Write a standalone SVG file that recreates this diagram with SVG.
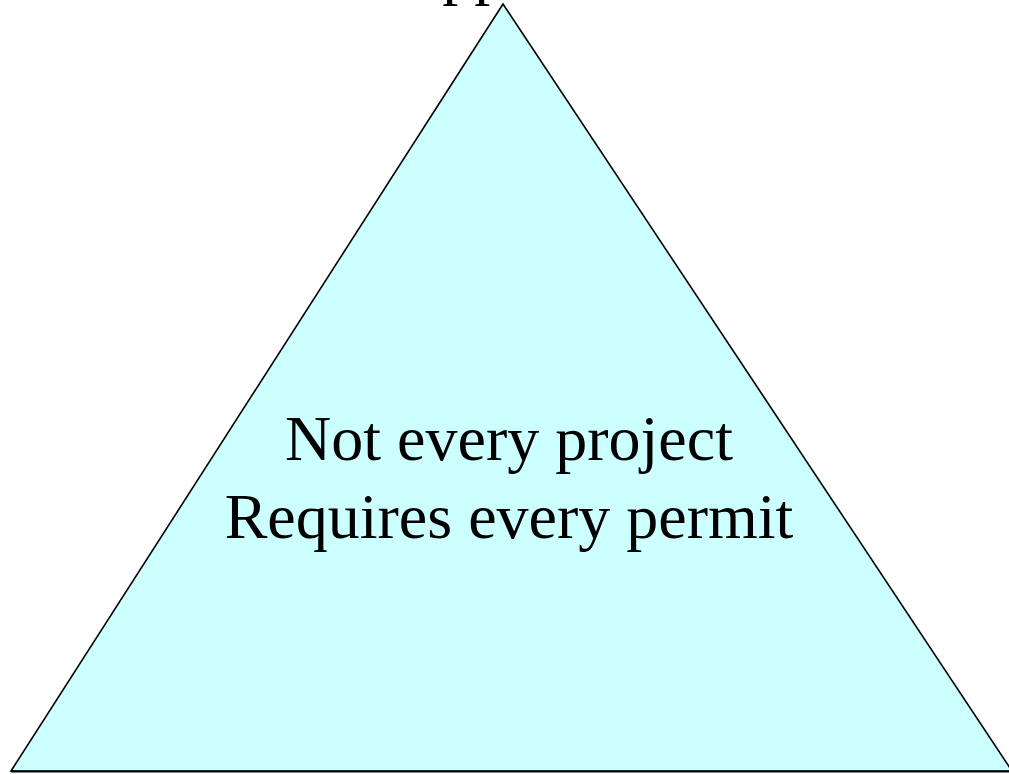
<svg xmlns="http://www.w3.org/2000/svg" width="1009" height="774" viewBox="0 0 1009 774">
<style>
.t{font-family:"Liberation Serif","Times New Roman",serif;font-size:64px;fill:#000;text-anchor:middle}
</style>
<rect width="1009" height="774" fill="#fff"/>
<g id="pyramid">
<polygon points="503,4 11,771 1012,771" fill="#ccffff" stroke="#000" stroke-width="1.6" stroke-linejoin="miter"/>
<line x1="11" y1="771.5" x2="1009" y2="771.5" stroke="#000" stroke-width="2"/>
<text class="t" x="509" y="460">Not every project</text>
<text class="t" x="509" y="538">Requires every permit</text>
</g>
<g id="top-label">
<text x="396" y="-8" style="font-family:'Liberation Serif','Times New Roman',serif;font-size:64px">Approval</text>
</g>
</svg>
